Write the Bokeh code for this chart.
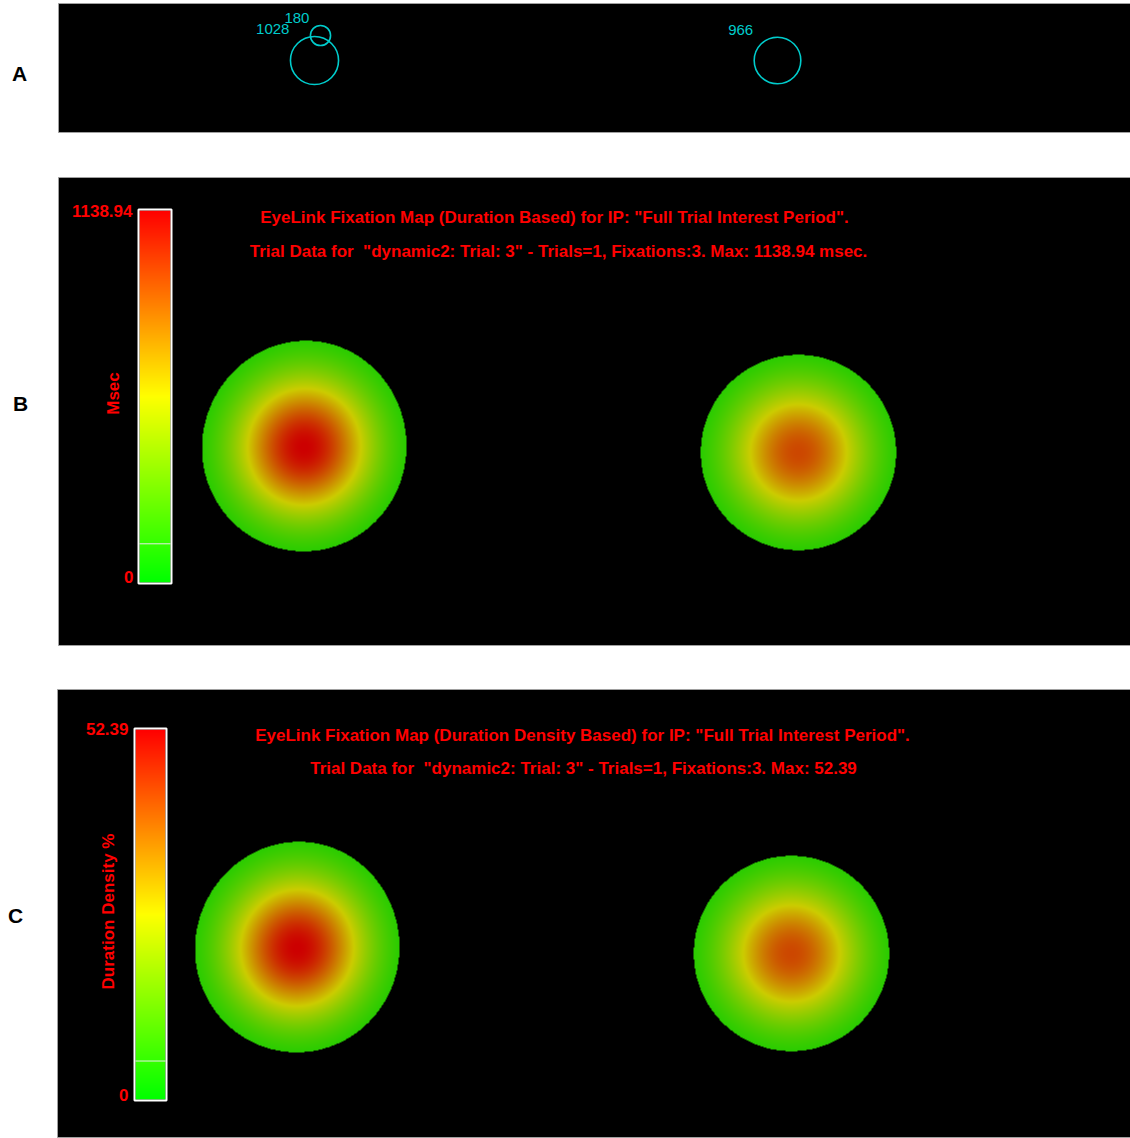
import numpy as np
from bokeh.plotting import figure
from bokeh.models import Range1d
from bokeh.core.properties import value
from bokeh.embed import file_html
from bokeh.resources import INLINE

# ---------------- data ----------------
fix_labels = ["1028", "180", "966"]
fix_dur = [1028, 180, 966]            # fixation durations (msec)
trial_x = [314, 320, 777]             # panel A fixation positions (px)
trial_y = [60, 35, 60]
map_x = [245, 251, 740]               # fixation positions on the map display (px)
map_y = [274, 240, 275]
bar_max = ["1138.94", "52.39"]        # colour-bar labels (B, C)
bar_min = ["0", "0"]
bar_units = ["Msec", "Duration Density %"]
titles_B = ['EyeLink Fixation Map (Duration Based) for IP: "Full Trial Interest Period".',
            'Trial Data for \u00a0"dynamic2: Trial: 3" - Trials=1, Fixations:3. Max: 1138.94 msec.']
titles_C = ['EyeLink Fixation Map (Duration Density Based) for IP: "Full Trial Interest Period".',
            'Trial Data for \u00a0"dynamic2: Trial: 3" - Trials=1, Fixations:3. Max: 52.39']
panel_names = ["A", "B", "C"]
THRESH = 0.104       # fraction of max below which the map is transparent
SIGMA = 48.0         # gaussian kernel (px)

# ---------------- figure ----------------
W, H = 1130, 1138


def Y(y):
    return H - y


p = figure(width=W, height=H, x_range=Range1d(0, W), y_range=Range1d(0, H),
           output_backend="svg", toolbar_location=None, x_axis_type=None, y_axis_type=None,
           min_border=0)
p.grid.visible = False
p.outline_line_color = None
p.background_fill_color = "white"
p.border_fill_color = "white"

FONT = "Liberation Sans"


def txt(x, y, s, size, color, bold=True, align="left", angle=0.0):
    off = 0.41 * size      # baseline correction
    if angle:
        x = x - off
    else:
        y = y - off
    p.text(x=[x], y=[Y(y)], text=[s], text_font=value(FONT), text_font_size=f"{size}px",
           text_font_style="bold" if bold else "normal", text_color=color,
           text_align=align, text_baseline="alphabetic", angle=angle)


# panel frames
frames = [(58, 3, 1130, 132), (58, 177, 1130, 645), (57, 689, 1130, 1137)]
p.quad(left=[f[0] for f in frames], right=[f[2] for f in frames],
       top=[Y(f[1]) for f in frames], bottom=[Y(f[3]) for f in frames],
       fill_color="black", line_color="#A0A0A0", line_width=1)

# panel letters
letter_pos = [(19, 82), (20, 412), (15, 924)]
for name, (lx, ly) in zip(panel_names, letter_pos):
    txt(lx, ly, name, 21, "black", align="center")

# ---------------- panel A: fixation circles ----------------
CYAN = "#00CCCC"
radii = [0.75 * np.sqrt(d) for d in fix_dur]
p.circle(x=trial_x, y=[Y(v) for v in trial_y], radius=radii, fill_color=None,
         line_color=CYAN, line_width=1.6)
for lab, cx, cy, r in zip(fix_labels, trial_x, trial_y, radii):
    txt(cx - r - 1, cy - r - 1, lab, 15, CYAN, bold=False, align="right")


# ---------------- heat maps ----------------
def colour(v):
    v = np.clip(v, 0, 1)
    R = np.where(v < 0.5, 510 * v, 255.0)
    G = np.where(v < 0.5, 255.0, 510 * (1 - v))
    return R, G


def density(l, t, r, b, ox, oy):
    xs = np.arange(l, r) + 0.5
    ys = np.arange(t, b) + 0.5
    X, YY = np.meshgrid(xs, ys)
    D = np.zeros(X.shape)
    for fx, fy, d in zip(map_x, map_y, fix_dur):
        D += d * np.exp(-((X - (ox + fx)) ** 2 + (YY - (oy + fy)) ** 2) / (2 * SIGMA ** 2))
    return D


def to_rgba(R, G, A):
    h, w = R.shape
    img = np.zeros((h, w), dtype=np.uint32)
    v = img.view(np.uint8).reshape(h, w, 4)
    v[..., 0] = R.astype(np.uint8)
    v[..., 1] = G.astype(np.uint8)
    v[..., 2] = 0
    v[..., 3] = A.astype(np.uint8)
    return img


# frame area and content origin for panels B and C
map_panels = [((59, 178, 1130, 645), (58, 177)), ((58, 690, 1130, 1137), (51, 678))]
dens = [density(*fr, *org) for fr, org in map_panels]
vmax = dens[0].max()
for (fr, org), D in zip(map_panels, dens):
    l, t, r, b = fr
    v = D / vmax
    R, G = colour(v)
    A = np.where(v >= THRESH, 255, 0)
    img = to_rgba(R * 0.8, G * 0.8, A)
    p.image_rgba(image=[np.ascontiguousarray(np.flipud(img))], x=l, y=Y(b), dw=r - l, dh=b - t)

# ---------------- colour bars ----------------
bars = [(139, 210, 170, 582), (135, 729, 165, 1099)]
for (l, t, r, b) in bars:
    h = b - t
    vv = (np.arange(h) + 0.5) / h
    R, G = colour(vv)
    R2 = np.repeat(R[:, None], 4, axis=1)
    G2 = np.repeat(G[:, None], 4, axis=1)
    img = to_rgba(R2, G2, np.full(R2.shape, 255))
    p.image_rgba(image=[img], x=l, y=Y(b), dw=r - l, dh=h)
    sep = b - THRESH * h
    p.segment(x0=[l], x1=[r], y0=[Y(sep)], y1=[Y(sep)], line_color="#E8E8E8", line_width=1)
    p.quad(left=[l - 1], right=[r + 1], top=[Y(t - 1)], bottom=[Y(b + 1)],
           fill_color=None, line_color="white", line_width=2)

RED = "#FF0000"
# bar labels
txt(132, 217, bar_max[0], 17, RED, align="right")
txt(133, 583, bar_min[0], 17, RED, align="right")
txt(128, 735, bar_max[1], 17, RED, align="right")
txt(128, 1101, bar_min[1], 17, RED, align="right")
txt(120, 393, bar_units[0], 17, RED, align="center", angle=np.pi / 2)
txt(115, 911, bar_units[1], 17, RED, align="center", angle=np.pi / 2)

# titles
txt(554, 224, titles_B[0], 17, RED, align="center")
txt(558, 258, titles_B[1], 17, RED, align="center")
txt(582, 742, titles_C[0], 17, RED, align="center")
txt(583, 775, titles_C[1], 17, RED, align="center")

open("out.html", "w").write(file_html(p, INLINE))
